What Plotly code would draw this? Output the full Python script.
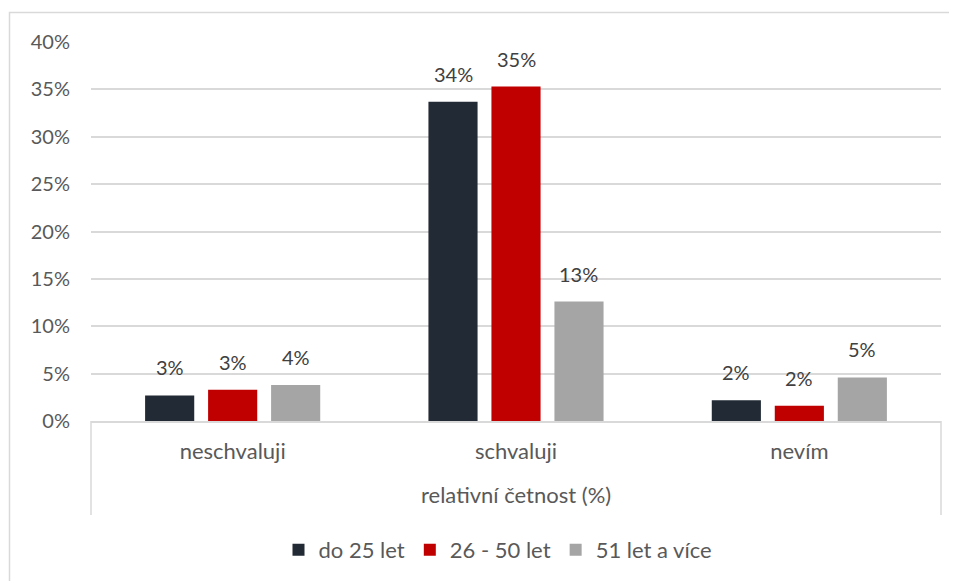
import plotly.graph_objects as go

categories = ["neschvaluji", "schvaluji", "nevím"]
group_label = "relativní četnost (%)"
series_names = ["do 25 let", "26 - 50 let", "51 let a více"]
series_values = [
    [2.7, 33.7, 2.2],
    [3.3, 35.3, 1.6],
    [3.8, 12.6, 4.6],
]
series_labels = [
    ["3%", "34%", "2%"],
    ["3%", "35%", "2%"],
    ["4%", "13%", "5%"],
]
colors = ["#222a35", "#c00000", "#a5a5a5"]
y_ticks = [0, 5, 10, 15, 20, 25, 30, 35, 40]
y_ticklabels = [f"{v}%" for v in y_ticks]

FONT = "Lato"
NUM_SIZE = 20
TXT_SIZE = 22
GRID = "#d9d9d9"

# page body has an 8px margin; figure coordinates = screen coordinates - 8
W, H = 949, 573
L, T = 83, 34
PW, PH = 850, 379
R = W - L - PW
B = H - T - PH

BARGAP = 0.333
n_series = len(series_names)
slot = (1 - BARGAP) / n_series


def py(screen_y):
    return (T + PH + 8 - screen_y) / PH


def px(screen_x):
    return (screen_x - 8 - L) / PW


fig = go.Figure()
annotations = []
for k, (name, vals, labs, col) in enumerate(zip(series_names, series_values, series_labels, colors)):
    fig.add_trace(go.Bar(
        x=categories,
        y=vals,
        name=name,
        marker=dict(color=col, line=dict(width=0)),
        hoverinfo="skip",
    ))
    for i, (v, lab) in enumerate(zip(vals, labs)):
        annotations.append(dict(
            x=i + (k - (n_series - 1) / 2) * slot, y=v, xref="x", yref="y",
            text=lab, showarrow=False, yanchor="bottom", yshift=14,
            font=dict(family=FONT, size=NUM_SIZE, color="#404040"),
        ))

annotations.append(dict(
    x=0.5, y=py(494), xref="paper", yref="paper",
    text=group_label, showarrow=False, yanchor="middle", xanchor="center",
    font=dict(family=FONT, size=TXT_SIZE, color="#595959"),
))

div_y = py(515)
shapes = [
    dict(type="line", xref="paper", yref="paper", x0=0, x1=0, y0=0, y1=div_y,
         line=dict(color=GRID, width=1.5)),
    dict(type="line", xref="paper", yref="paper", x0=1, x1=1, y0=0, y1=div_y,
         line=dict(color=GRID, width=1.5)),
    dict(type="rect", xref="paper", yref="paper",
         x0=px(9.5), x1=px(975), y0=py(600), y1=py(12.5),
         line=dict(color=GRID, width=1.5), fillcolor="rgba(0,0,0,0)", layer="above"),
]

fig.update_layout(
    width=W, height=H,
    margin=dict(l=L, r=R, t=T, b=B, autoexpand=False),
    paper_bgcolor="white", plot_bgcolor="white",
    barmode="group", bargap=BARGAP, bargroupgap=0.22,
    font=dict(family=FONT, size=TXT_SIZE, color="#595959"),
    showlegend=True,
    legend=dict(orientation="h", x=0.5 - 18 / PW, xanchor="center", y=py(550), yanchor="middle",
                font=dict(family=FONT, size=TXT_SIZE, color="#595959"),
                itemwidth=30, traceorder="normal"),
    xaxis=dict(
        type="category", automargin=False,
        showline=True, linecolor=GRID, linewidth=1.5,
        showgrid=False, ticks="", ticklabelstandoff=10,
        tickfont=dict(family=FONT, size=TXT_SIZE, color="#595959"),
    ),
    yaxis=dict(
        range=[0, 40], tickvals=y_ticks, ticktext=y_ticklabels, automargin=False,
        showgrid=True, gridcolor=GRID, gridwidth=1.5,
        zeroline=False, showline=False, ticks="", ticklabelstandoff=20,
        tickfont=dict(family=FONT, size=NUM_SIZE, color="#595959"),
    ),
    annotations=annotations,
    shapes=shapes,
)

fig.write_html("out.html")
